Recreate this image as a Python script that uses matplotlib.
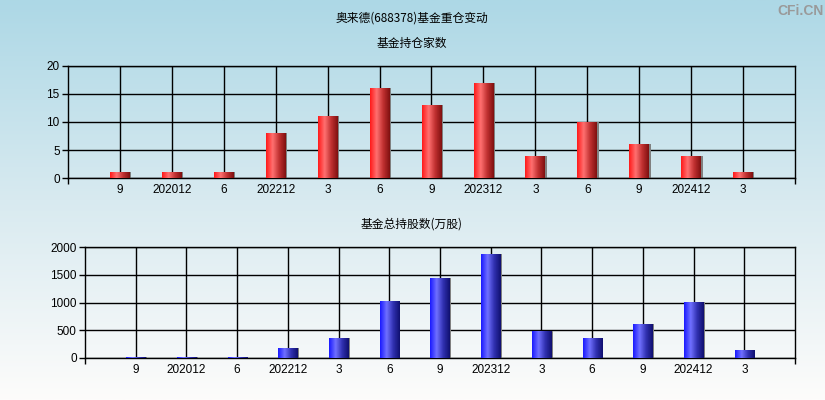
import matplotlib.pyplot as plt
import numpy as np
from matplotlib.colors import LinearSegmentedColormap

plt.rcParams['font.family'] = ['Noto Sans CJK SC', 'DejaVu Sans']

labels = ['9', '202012', '6', '202212', '3', '6', '9', '202312', '3', '6', '9', '202412', '3']
fund_count = [1, 1, 1, 8, 11, 16, 13, 17, 4, 10, 6, 4, 1]
fund_shares = [10, 10, 10, 185, 366, 1035, 1447, 1880, 492, 366, 618, 1015, 150]

red_cmap = LinearSegmentedColormap.from_list('r', ['#ff1a1a', '#ff7070', '#c03030', '#801010'])
blue_cmap = LinearSegmentedColormap.from_list('b', ['#1a1aff', '#7070ff', '#3030b0', '#101070'])

fig = plt.figure(figsize=(8.25, 4.0), dpi=100)

# background gradient
bg = fig.add_axes([0, 0, 1, 1], zorder=-10)
grad = np.linspace(0, 1, 256).reshape(-1, 1)
bg_cmap = LinearSegmentedColormap.from_list('bg', ['#add8e6', '#d8eaf0', '#fdfcfb'])
bg.imshow(grad, aspect='auto', cmap=bg_cmap, extent=[0, 1, 0, 1], origin='upper')
bg.axis('off')

tick_font = ['Liberation Sans', 'DejaVu Sans']

def draw(ax, vals, ymax, yticks, cmap):
    x = np.arange(1, len(vals) + 1)
    ax.patch.set_alpha(0)
    w = 0.38
    # shadow
    ax.bar(x + 0.03, vals, width=w, color='#808080', zorder=2)
    bars = ax.bar(x, vals, width=w, color='none', zorder=3)
    gimg = np.linspace(0, 1, 64).reshape(1, -1)
    for b in bars:
        im = ax.imshow(gimg, cmap=cmap, aspect='auto', zorder=3,
                       extent=[b.get_x(), b.get_x() + b.get_width(), 0, b.get_height()])
        im.set_clip_path(b)
    ax.set_xlim(0, len(vals) + 1)
    ax.set_ylim(0, ymax)
    ax.set_xticks(x)
    ax.set_xticklabels(labels, fontsize=8.5, family=tick_font)
    ax.set_xticks([0, len(vals) + 1], minor=True)
    ax.tick_params(axis='x', which='major', length=0, pad=4)
    ax.tick_params(axis='x', which='minor', length=4, width=1, direction='out')
    ax.set_yticks(yticks)
    ax.set_yticklabels([str(t) for t in yticks], fontsize=8.5, family=tick_font)
    ax.tick_params(axis='y', length=4, width=1, pad=2)
    ax.grid(True, color='black', linewidth=1, zorder=1)
    ax.set_axisbelow(True)
    for s in ax.spines.values():
        s.set_color('black')
        s.set_linewidth(1)

ax1 = fig.add_axes([68 / 825, 1 - 178 / 400, (795 - 68) / 825, (178 - 66) / 400])
draw(ax1, fund_count, 20, [0, 5, 10, 15, 20], red_cmap)

ax2 = fig.add_axes([85 / 825, 1 - 358 / 400, (795 - 85) / 825, (358 - 247) / 400])
draw(ax2, fund_shares, 2000, [0, 500, 1000, 1500, 2000], blue_cmap)

fig.text(412 / 825, 1 - 18 / 400, '奥来德(688378)基金重仓变动', ha='center', va='center', fontsize=8.5)
fig.text(412 / 825, 1 - 43 / 400, '基金持仓家数', ha='center', va='center', fontsize=8.5)
fig.text(412 / 825, 1 - 224 / 400, '基金总持股数(万股)', ha='center', va='center', fontsize=8.5)
fig.text(801 / 825, 1 - 11 / 400, 'CFi.CN', ha='center', va='center', fontsize=10,
         color='#9a9a9a', fontweight='bold', family=tick_font)

fig.savefig('out.png', dpi=100)
